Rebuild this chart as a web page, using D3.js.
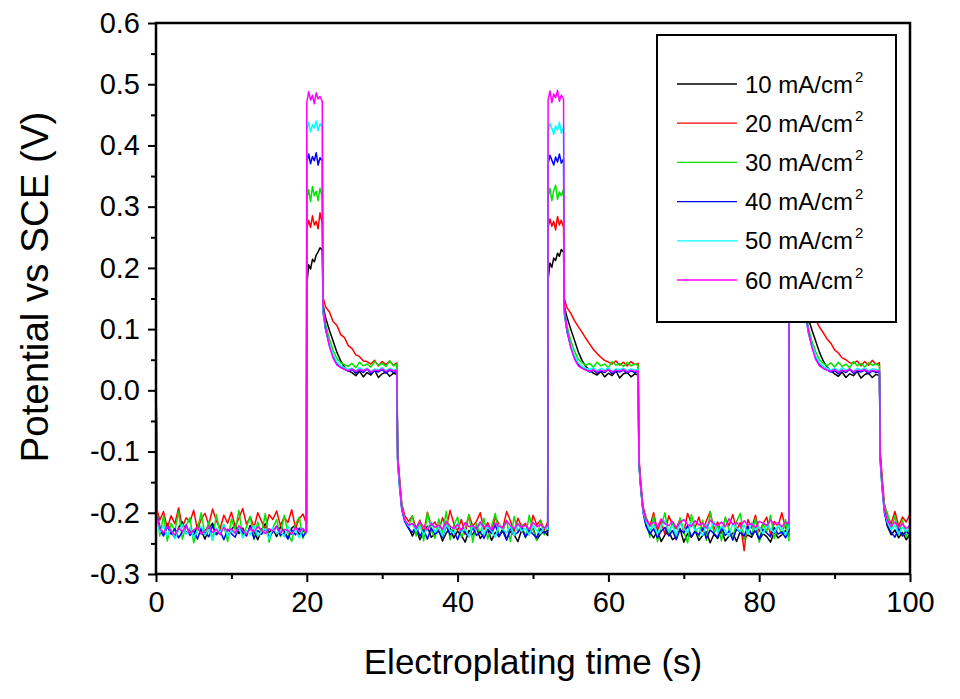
<!DOCTYPE html>
<html>
<head>
<meta charset="utf-8">
<script src="https://cdn.jsdelivr.net/npm/d3@7"></script>
<style>
  html, body { margin: 0; padding: 0; background: #fff; }
  svg { display: block; font-family: "Liberation Sans", Arial, sans-serif; }
</style>
</head>
<body>
<svg id="chart" width="960" height="699"></svg>
<script>
// ---------- DATA (time in s, potential in mV vs SCE) ----------
const T = [
  0, 0.15, 0.5, 1, 1.5, 2, 2.5, 3, 3.5, 4, 4.5, 5, 5.5, 6, 6.5, 7, 7.5, 8, 8.5, 9, 9.5, 10, 10.5, 11, 11.5, 12, 12.5, 13, 13.5, 14, 14.5, 15, 15.5, 16, 16.5, 17, 17.5, 18, 18.5, 19, 19.5, 19.95,
  20, 20.25, 20.5, 20.75, 21, 21.25, 21.5, 21.75, 22.05,
  22.15, 22.5, 23, 23.5, 24, 24.5, 25, 25.5, 26, 26.5, 27, 27.5, 28, 28.5, 29, 29.5, 30, 30.5, 31, 31.5, 31.95,
  32.05, 32.3, 32.6, 33, 33.5, 34, 34.5, 35, 35.5, 36, 36.5, 37, 37.5, 38, 38.5, 39, 39.5, 40, 40.5, 41, 41.5, 42, 42.5, 43, 43.5, 44, 44.5, 45, 45.5, 46, 46.5, 47, 47.5, 48, 48.5, 49, 49.5, 50, 50.5, 51, 51.5, 51.95,
  52, 52.25, 52.5, 52.75, 53, 53.25, 53.5, 53.75, 54.05,
  54.15, 54.5, 55, 55.5, 56, 56.5, 57, 57.5, 58, 58.5, 59, 59.5, 60, 60.5, 61, 61.5, 62, 62.5, 63, 63.5, 63.95,
  64.05, 64.3, 64.6, 65, 65.5, 66, 66.5, 67, 67.5, 68, 68.5, 69, 69.5, 70, 70.5, 71, 71.5, 72, 72.5, 73, 73.5, 74, 74.5, 75, 75.5, 76, 76.5, 77, 77.5, 78, 78.5, 79, 79.5, 80, 80.5, 81, 81.5, 82, 82.5, 83, 83.5, 83.95,
  84, 84.25, 84.5, 84.75, 85, 85.25, 85.5, 85.75, 86.05,
  86.15, 86.5, 87, 87.5, 88, 88.5, 89, 89.5, 90, 90.5, 91, 91.5, 92, 92.5, 93, 93.5, 94, 94.5, 95, 95.5, 95.95,
  96.05, 96.3, 96.6, 97, 97.5, 98, 98.5, 99, 99.5, 100
];

const s10 = [
  25, -205, -222, -236, -218, -230, -241, -224, -215, -233, -227, -238, -220, -229, -243, -226, -217, -235, -230, -222, -240, -228, -219, -234, -225, -237, -221, -231, -244, -227, -218, -232, -226, -239, -223, -230, -241, -225, -220, -236, -229, -233,
  172, 205, 198, 214, 210, 221, 226, 233, 229,
  140, 118, 98, 80, 62, 48, 38, 32, 29, 24, 31, 22, 29, 25, 33, 21, 27, 30, 23, 28, 26,
  -110, -150, -192, -212, -224, -238, -226, -244, -231, -222, -240, -235, -228, -246, -233, -225, -241, -230, -237, -248, -229, -236, -224, -242, -234, -227, -245, -232, -239, -226, -243, -231, -236, -247, -228, -238, -233, -225, -244, -235, -230, -237,
  180, 208, 201, 216, 212, 224, 219, 230, 226,
  138, 120, 100, 82, 63, 49, 39, 33, 28, 25, 31, 22, 28, 24, 32, 20, 27, 29, 22, 27, 25,
  -115, -158, -196, -220, -232, -241, -229, -247, -236, -230, -244, -239, -226, -248, -234, -240, -229, -245, -237, -231, -249, -235, -242, -228, -246, -238, -233, -247, -230, -243, -236, -240, -227, -245, -234, -239, -248, -231, -241, -236, -229, -238,
  178, 205, 199, 215, 211, 222, 218, 229, 225,
  136, 118, 98, 80, 62, 48, 38, 32, 27, 23, 30, 21, 27, 24, 31, 20, 26, 28, 21, 26, 24,
  -105, -150, -195, -222, -236, -228, -241, -232, -244, -235
];

const s20 = [
  28, -195, -212, -198, -225, -205, -218, -192, -223, -208, -215, -196, -228, -210, -201, -220, -194, -213, -226, -204, -217, -199, -222, -209, -193, -219, -206, -224, -200, -214, -227, -203, -211, -197, -221, -207, -216, -195, -225, -210, -202, -218,
  262, 278, 266, 285, 270, 276, 264, 290, 272,
  152, 136, 128, 112, 106, 91, 86, 73, 68, 58, 55, 48, 47, 43, 49, 40, 47, 42, 48, 41, 45,
  -105, -142, -185, -205, -214, -205, -226, -212, -233, -199, -221, -215, -230, -208, -224, -196, -218, -229, -211, -235, -203, -222, -214, -200, -227, -216, -232, -207, -219, -225, -198, -213, -231, -209, -223, -217, -236, -204, -220, -212, -228, -215,
  265, 280, 268, 276, 262, 284, 270, 278, 266,
  150, 135, 126, 114, 104, 95, 85, 76, 67, 60, 54, 49, 46, 43, 48, 41, 46, 40, 47, 42, 44,
  -108, -150, -190, -208, -222, -200, -229, -214, -235, -205, -219, -226, -210, -232, -201, -217, -224, -207, -230, -213, -198, -227, -215, -234, -209, -221, -203, -228, -216, -262, -211, -225, -204, -231, -218, -207, -236, -214, -222, -200, -226, -212,
  268, 282, 265, 277, 271, 286, 263, 279, 270,
  150, 137, 124, 115, 103, 94, 84, 77, 66, 61, 53, 50, 45, 44, 48, 40, 47, 41, 49, 42, 45,
  -100, -140, -185, -205, -218, -198, -222, -207, -215, -202
];

const s30 = [
  30, -200, -238, -205, -246, -217, -230, -198, -243, -221, -208, -249, -226, -200, -237, -214, -245, -203, -232, -219, -247, -210, -228, -196, -240, -223, -206, -244, -215, -235, -201, -248, -225, -211, -239, -204, -233, -247, -218, -207, -242, -222,
  312, 328, 308, 333, 318, 325, 310, 330, 316,
  135, 108, 84, 65, 52, 45, 42, 39, 44, 37, 46, 40, 43, 38, 47, 41, 44, 39, 48, 40, 43,
  -112, -148, -190, -212, -222, -205, -238, -214, -246, -200, -229, -242, -210, -233, -198, -244, -220, -207, -240, -226, -203, -248, -217, -235, -209, -243, -222, -201, -237, -230, -212, -247, -206, -232, -219, -241, -204, -228, -245, -213, -236, -224,
  315, 330, 310, 326, 335, 312, 324, 318, 328,
  133, 106, 82, 64, 51, 45, 41, 44, 38, 46, 40, 43, 37, 47, 41, 44, 39, 46, 40, 43, 41,
  -118, -160, -198, -210, -240, -205, -247, -222, -200, -236, -215, -243, -208, -230, -249, -203, -226, -239, -212, -245, -198, -233, -221, -246, -207, -228, -241, -214, -201, -244, -224, -237, -209, -248, -217, -231, -204, -242, -220, -235, -211, -246,
  318, 327, 309, 331, 315, 324, 336, 312, 322,
  130, 104, 80, 63, 50, 44, 40, 45, 38, 46, 39, 43, 37, 47, 40, 44, 38, 45, 41, 43, 40,
  -110, -152, -190, -200, -228, -205, -236, -212, -240, -220
];

const s40 = [
  32, -205, -228, -238, -222, -235, -226, -241, -231, -220, -237, -229, -243, -225, -233, -239, -221, -236, -230, -244, -227, -234, -240, -224, -232, -238, -223, -242, -229, -235, -226, -240, -231, -222, -237, -233, -243, -228, -236, -225, -239, -231,
  372, 386, 370, 382, 375, 388, 368, 380, 374,
  128, 98, 74, 56, 44, 38, 35, 31, 34, 28, 33, 29, 35, 27, 32, 30, 34, 28, 33, 29, 31,
  -118, -158, -195, -215, -226, -232, -222, -238, -228, -243, -225, -235, -230, -240, -221, -236, -229, -244, -226, -233, -239, -224, -237, -231, -242, -227, -234, -220, -238, -230, -245, -225, -236, -232, -223, -240, -228, -235, -241, -226, -233, -229,
  370, 384, 376, 368, 381, 373, 386, 371, 378,
  126, 96, 72, 55, 43, 37, 34, 30, 33, 28, 32, 29, 34, 27, 31, 30, 33, 28, 32, 29, 31,
  -120, -162, -200, -222, -235, -226, -241, -230, -224, -238, -229, -244, -227, -233, -221, -239, -231, -236, -225, -242, -228, -234, -240, -223, -237, -230, -245, -226, -232, -238, -222, -236, -229, -243, -227, -233, -239, -224, -235, -231, -241, -228,
  374, 385, 369, 380, 377, 389, 372, 383, 376,
  124, 95, 71, 54, 42, 36, 33, 30, 32, 27, 33, 29, 34, 28, 31, 30, 33, 27, 32, 29, 30,
  -115, -160, -200, -220, -232, -240, -226, -238, -230, -236
];

const s50 = [
  33, -210, -232, -221, -238, -226, -242, -229, -219, -235, -224, -240, -230, -222, -237, -227, -244, -225, -233, -220, -239, -228, -234, -223, -241, -229, -236, -221, -238, -231, -226, -243, -224, -234, -230, -239, -222, -236, -228, -241, -225, -233,
  425, 438, 422, 434, 428, 440, 424, 436, 430,
  132, 100, 76, 58, 46, 40, 37, 34, 36, 32, 37, 33, 36, 31, 35, 33, 37, 32, 36, 33, 34,
  -115, -155, -192, -212, -222, -218, -230, -222, -236, -225, -215, -232, -224, -238, -220, -228, -234, -217, -231, -226, -239, -221, -229, -216, -235, -223, -230, -240, -219, -227, -233, -222, -237, -218, -230, -225, -236, -221, -229, -234, -223, -227,
  422, 436, 428, 418, 432, 425, 438, 420, 430,
  130, 99, 75, 57, 45, 39, 36, 34, 37, 32, 36, 33, 37, 31, 35, 34, 36, 32, 35, 33, 34,
  -118, -160, -198, -215, -228, -220, -234, -223, -213, -230, -221, -236, -218, -226, -232, -216, -229, -224, -237, -219, -227, -214, -233, -222, -229, -238, -217, -225, -231, -220, -235, -216, -228, -223, -234, -219, -227, -232, -221, -226, -236, -224,
  426, 437, 421, 433, 429, 441, 423, 435, 431,
  128, 97, 74, 56, 45, 39, 36, 33, 36, 32, 37, 33, 35, 31, 36, 33, 37, 32, 35, 34, 33,
  -112, -158, -196, -215, -228, -220, -234, -224, -230, -226
];

const s60 = [
  35, -205, -226, -233, -222, -230, -236, -225, -231, -221, -234, -228, -224, -235, -229, -222, -232, -227, -236, -224, -230, -226, -233, -221, -229, -235, -225, -231, -223, -228, -234, -226, -230, -222, -233, -227, -229, -235, -224, -231, -226, -232,
  470, 488, 474, 482, 468, 486, 476, 480, 472,
  138, 102, 72, 52, 41, 37, 34, 32, 35, 31, 34, 32, 35, 30, 33, 32, 35, 31, 34, 32, 33,
  -110, -150, -193, -212, -220, -218, -225, -215, -223, -228, -217, -224, -220, -227, -214, -222, -226, -219, -229, -216, -223, -221, -227, -215, -224, -220, -228, -217, -222, -225, -213, -221, -226, -218, -224, -220, -227, -216, -223, -219, -225, -221,
  474, 489, 470, 484, 478, 490, 472, 482, 476,
  136, 100, 70, 51, 40, 36, 33, 31, 34, 30, 33, 31, 34, 30, 33, 31, 34, 30, 33, 31, 32,
  -115, -158, -195, -212, -220, -215, -223, -210, -218, -221, -214, -224, -216, -211, -219, -222, -213, -220, -217, -225, -212, -218, -221, -215, -223, -210, -219, -216, -222, -213, -220, -218, -224, -214, -217, -221, -212, -219, -216, -223, -215, -218,
  476, 488, 472, 485, 479, 491, 473, 483, 477,
  134, 99, 70, 50, 40, 36, 33, 31, 34, 30, 33, 31, 35, 30, 33, 32, 34, 30, 33, 31, 32,
  -110, -155, -195, -212, -222, -215, -224, -218, -226, -220
];

const seriesNames = ["10 mA/cm", "20 mA/cm", "30 mA/cm", "40 mA/cm", "50 mA/cm", "60 mA/cm"];
const seriesValues = [s10, s20, s30, s40, s50, s60];

const xTickValues = [0, 20, 40, 60, 80, 100];
const xTickLabels = ["0", "20", "40", "60", "80", "100"];
const xMinorTicks = [10, 30, 50, 70, 90];
const yTickValues = [-0.3, -0.2, -0.1, 0.0, 0.1, 0.2, 0.3, 0.4, 0.5, 0.6];
const yTickLabels = ["-0.3", "-0.2", "-0.1", "0.0", "0.1", "0.2", "0.3", "0.4", "0.5", "0.6"];
const yMinorTicks = [-0.25, -0.15, -0.05, 0.05, 0.15, 0.25, 0.35, 0.45, 0.55];

const xTitle = "Electroplating time (s)";
const yTitle = "Potential vs SCE (V)";

// ---------- STYLE ----------
const colors = ["#000000", "#ff0000", "#00e400", "#0000ff", "#00ffff", "#ff00ff"];
const M = { left: 156, right: 910, top: 23, bottom: 574 };

const svg = d3.select("#chart");
const x = d3.scaleLinear().domain([0, 100]).range([M.left, M.right]);
const y = d3.scaleLinear().domain([-0.3, 0.6]).range([M.bottom, M.top]);

svg.append("defs").append("clipPath").attr("id", "clip")
  .append("rect").attr("x", M.left).attr("y", M.top)
  .attr("width", M.right - M.left).attr("height", M.bottom - M.top);

// ---------- LINES ----------
const line = d3.line()
  .defined(d => d[0] !== undefined && d[1] !== undefined)
  .x(d => x(d[0])).y(d => y(d[1] / 1000));

const gLines = svg.append("g").attr("clip-path", "url(#clip)");
seriesValues.forEach((vals, i) => {
  const pts = vals.map((v, k) => [T[k], v]);
  gLines.append("path")
    .datum(pts)
    .attr("d", line)
    .attr("fill", "none")
    .attr("stroke", colors[i])
    .attr("stroke-width", 1.5)
    .attr("stroke-linejoin", "round");
});

// ---------- AXES ----------
const fontTick = 29;
const xAxis = d3.axisBottom(x).tickValues(xTickValues)
  .tickFormat((d, i) => xTickLabels[i]).tickSize(8).tickSizeOuter(0).tickPadding(9);
const xAxisMinor = d3.axisBottom(x).tickValues(xMinorTicks).tickFormat("").tickSize(5).tickSizeOuter(0);
const yAxis = d3.axisLeft(y).tickValues(yTickValues)
  .tickFormat((d, i) => yTickLabels[i]).tickSize(8).tickSizeOuter(0).tickPadding(8);
const yAxisMinor = d3.axisLeft(y).tickValues(yMinorTicks).tickFormat("").tickSize(5).tickSizeOuter(0);

function styleAxis(g) {
  g.select(".domain").remove();
  g.selectAll(".tick line").attr("stroke", "#000").attr("stroke-width", 2);
  g.selectAll(".tick text").attr("fill", "#000")
    .style("font-family", '"Liberation Sans", Arial, sans-serif')
    .style("font-size", fontTick + "px");
}

svg.append("g").attr("transform", `translate(0,${M.bottom})`).call(xAxis).call(styleAxis);
svg.append("g").attr("transform", `translate(0,${M.bottom})`).call(xAxisMinor).call(styleAxis);
svg.append("g").attr("transform", `translate(${M.left},0)`).call(yAxis).call(styleAxis);
svg.append("g").attr("transform", `translate(${M.left},0)`).call(yAxisMinor).call(styleAxis);

// frame
svg.append("rect")
  .attr("x", M.left).attr("y", M.top)
  .attr("width", M.right - M.left).attr("height", M.bottom - M.top)
  .attr("fill", "none").attr("stroke", "#000").attr("stroke-width", 2.5);

// titles
svg.append("text")
  .attr("x", 533).attr("y", 674)
  .attr("text-anchor", "middle")
  .style("font-size", "35px").attr("fill", "#000")
  .text(xTitle);

svg.append("text")
  .attr("transform", `translate(48,287) rotate(-90)`)
  .attr("text-anchor", "middle")
  .style("font-size", "38.5px").attr("fill", "#000")
  .text(yTitle);

// ---------- LEGEND ----------
const L = { x: 657, y: 35, w: 239, h: 287, row0: 84, dy: 39.2 };
const lg = svg.append("g");
lg.append("rect")
  .attr("x", L.x).attr("y", L.y).attr("width", L.w).attr("height", L.h)
  .attr("fill", "#fff").attr("stroke", "#000").attr("stroke-width", 2);

seriesNames.forEach((name, i) => {
  const cy = L.row0 + i * L.dy;
  lg.append("line")
    .attr("x1", 677).attr("x2", 737).attr("y1", cy).attr("y2", cy)
    .attr("stroke", colors[i]).attr("stroke-width", 1.3);
  const t = lg.append("text")
    .attr("x", 745).attr("y", cy + 8.5)
    .style("font-size", "24px").attr("fill", "#000");
  t.append("tspan").text(name);
  t.append("tspan").attr("dy", -11).attr("dx", 2).style("font-size", "15px").text("2");
});
</script>
</body>
</html>
